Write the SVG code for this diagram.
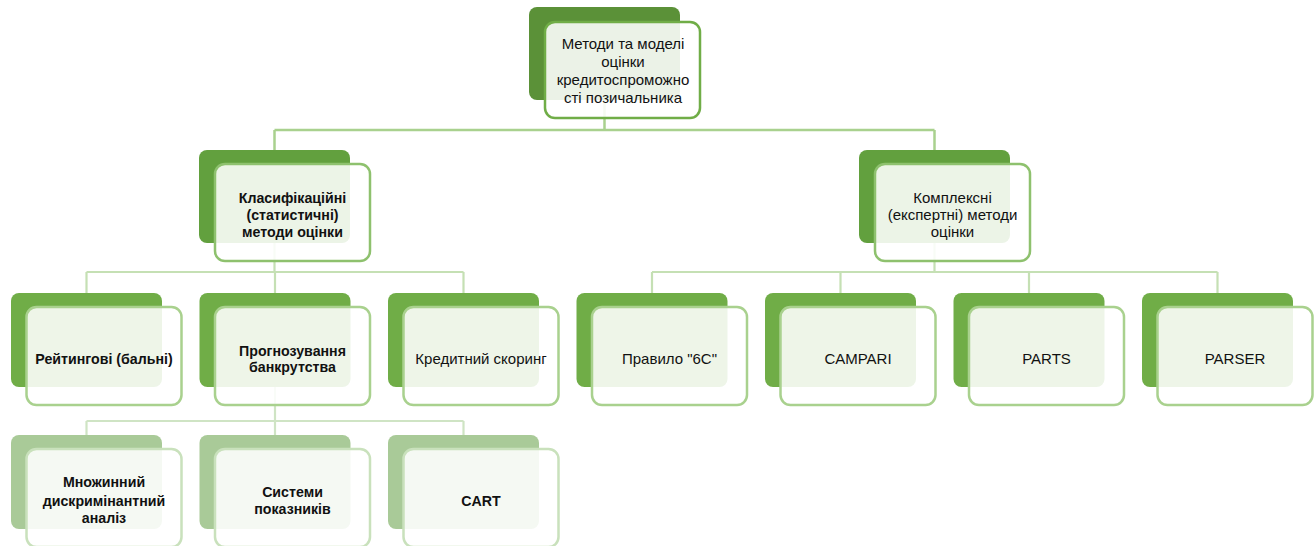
<svg xmlns="http://www.w3.org/2000/svg" width="1315" height="546" viewBox="0 0 1315 546">
<style>
text{font-family:"Liberation Sans",Arial,sans-serif;font-size:15px;fill:#111;text-anchor:middle}
.b{font-weight:bold;font-size:14.2px}
.front{fill:#fff;fill-opacity:0.88;stroke-width:2.5}
.bk0{fill:#5B9138}
.bk1{fill:#62A03E}
.bk2{fill:#70AD47}
.bk3{fill:#A9CA98}
.f0{stroke:#70AD47}
.f1{stroke:#8EC16E}
.f2{stroke:#A9D18E}
.f3{stroke:#C9E1BC}
.c1{fill:none;stroke:#A9D18E;stroke-width:2.5}
.c2{fill:none;stroke:#C5E0B4;stroke-width:2.2}
.c3{fill:none;stroke:#CFE4C4;stroke-width:2.2}
</style>
<rect width="1315" height="546" fill="#fff"/>
<g id="connectors">
<path class="c1" d="M604.5,100V130M274.5,130H934.5M274.5,130V150M934.5,130V150"/>
<path class="c2" d="M274.5,243V272M86.5,272H463.5M86.5,272V293M275,272V293M463.5,272V293"/>
<path class="c2" d="M934.5,243V272M652,272H1217.5M652,272V293M840.5,272V293M1029,272V293M1217.5,272V293"/>
<path class="c3" d="M275,387V421M86.5,421H463.5M86.5,421V435M275,421V435M463.5,421V435"/>
</g>
<g id="n0">
<rect class="bk0" x="529" y="7" width="151" height="93" rx="8"/>
<rect class="front f0" x="545" y="22" width="155" height="96" rx="10"/>
<text x="623" y="48.5">Методи та моделі</text>
<text x="623" y="66.5">оцінки</text>
<text x="623" y="84.5">кредитоспроможно</text>
<text x="623" y="102.5">сті позичальника</text>
</g>
<g id="n1">
<rect class="bk1" x="199" y="150" width="151" height="93" rx="8"/>
<rect class="front f1" x="215" y="164" width="155" height="97" rx="10"/>
<text class="b" x="292.5" y="202.5">Класифікаційні</text>
<text class="b" x="292.5" y="219.5">(статистичні)</text>
<text class="b" x="292.5" y="236.5">методи оцінки</text>
</g>
<g id="n2">
<rect class="bk1" x="859" y="150" width="151" height="93" rx="8"/>
<rect class="front f1" x="875" y="164" width="155" height="97" rx="10"/>
<text x="952.5" y="202.5">Комплексні</text>
<text x="952.5" y="219.5">(експертні) методи</text>
<text x="952.5" y="236.5">оцінки</text>
</g>
<g id="n3">
<rect class="bk2" x="11" y="293" width="151" height="94" rx="8"/>
<rect class="front f2" x="26.5" y="307" width="155" height="98" rx="10"/>
<text class="b" x="104" y="363.5">Рейтингові (бальні)</text>
</g>
<g id="n4">
<rect class="bk2" x="199.5" y="293" width="151" height="94" rx="8"/>
<rect class="front f2" x="215" y="307" width="155" height="98" rx="10"/>
<text class="b" x="292.5" y="355.5">Прогнозування</text>
<text class="b" x="292.5" y="371.5">банкрутства</text>
</g>
<g id="n5">
<rect class="bk2" x="388" y="293" width="151" height="94" rx="8"/>
<rect class="front f2" x="403.5" y="307" width="155" height="98" rx="10"/>
<text x="481" y="363.5">Кредитний скоринг</text>
</g>
<g id="n6">
<rect class="bk2" x="576.5" y="293" width="151" height="94" rx="8"/>
<rect class="front f2" x="592" y="307" width="155" height="98" rx="10"/>
<text x="669.5" y="363.5">Правило "6С"</text>
</g>
<g id="n7">
<rect class="bk2" x="765" y="293" width="151" height="94" rx="8"/>
<rect class="front f2" x="780.5" y="307" width="155" height="98" rx="10"/>
<text x="858" y="363.5">CAMPARI</text>
</g>
<g id="n8">
<rect class="bk2" x="953.5" y="293" width="151" height="94" rx="8"/>
<rect class="front f2" x="969" y="307" width="155" height="98" rx="10"/>
<text x="1046.5" y="363.5">PARTS</text>
</g>
<g id="n9">
<rect class="bk2" x="1142" y="293" width="151" height="94" rx="8"/>
<rect class="front f2" x="1157.5" y="307" width="155" height="98" rx="10"/>
<text x="1235" y="363.5">PARSER</text>
</g>
<g id="n10">
<rect class="bk3" x="11" y="435" width="151" height="94" rx="8"/>
<rect class="front f3" x="26.5" y="449" width="155" height="98" rx="10"/>
<text class="b" x="104" y="486.5">Множинний</text>
<text class="b" x="104" y="505.5">дискримінантний</text>
<text class="b" x="104" y="522.5">аналіз</text>
</g>
<g id="n11">
<rect class="bk3" x="199.5" y="435" width="151" height="94" rx="8"/>
<rect class="front f3" x="215" y="449" width="155" height="98" rx="10"/>
<text class="b" x="292.5" y="496.5">Системи</text>
<text class="b" x="292.5" y="513.5">показників</text>
</g>
<g id="n12">
<rect class="bk3" x="388" y="435" width="151" height="94" rx="8"/>
<rect class="front f3" x="403.5" y="449" width="155" height="98" rx="10"/>
<text class="b" x="481" y="505.5">CART</text>
</g>
</svg>
